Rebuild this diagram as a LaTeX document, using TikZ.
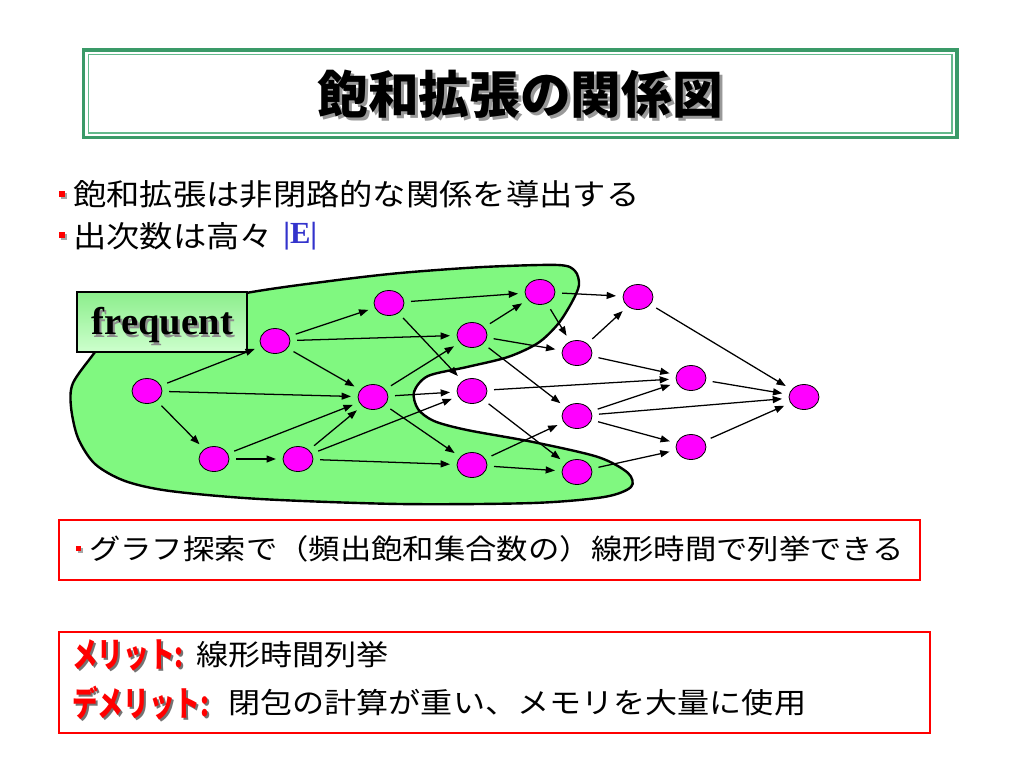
\documentclass[tikz,border=0pt]{standalone}
\usepackage{fontspec}
\usetikzlibrary{arrows.meta,shapes.geometric}
\newfontfamily\jp[FakeStretch=1.12]{Noto Sans CJK JP}
\newfontfamily\jpt{Noto Sans CJK JP}
\newfontfamily\jpc[FakeStretch=0.74]{Noto Sans CJK JP}
\newfontfamily\tms{Liberation Serif}
\definecolor{blobg}{RGB}{128,248,128}
\definecolor{frameg}{RGB}{58,154,104}
\definecolor{frameg2}{RGB}{100,185,140}
\definecolor{mag}{RGB}{255,0,255}
\definecolor{eblue}{RGB}{51,51,204}
\definecolor{fbtop}{RGB}{140,238,140}
\definecolor{fbbot}{RGB}{205,255,205}
\begin{document}
\begin{tikzpicture}[x=0.75pt,y=-0.75pt,
  vtx/.style={ellipse,draw=black,line width=0.6pt,fill=mag,minimum width=22.5pt,minimum height=18.75pt,inner sep=0pt},
  arr/.style={draw=black,line width=0.95pt,-{Triangle[length=7pt,width=5.2pt]},shorten <=5pt,shorten >=5pt},
  body/.style={inner sep=0pt,anchor=west,font=\jp\fontsize{22.3pt}{26pt}\selectfont},
  boxtxt/.style={inner sep=0pt,anchor=west,font=\jp\fontsize{21pt}{25pt}\selectfont},
  boxtxtb/.style={inner sep=0pt,anchor=west,font=\jp\fontsize{21.5pt}{26pt}\selectfont},
  redlbl/.style={inner sep=0pt,anchor=west,font=\jpc\bfseries\fontsize{26pt}{28pt}\selectfont},
  bul/.style={fill=red},
  bulsh/.style={fill=black!35},
  redbox/.style={draw=red,line width=1.1pt}
]
\useasboundingbox (0,0) rectangle (1024,768);
\fill[white] (0,0) rectangle (1024,768);

% title
\draw[frameg,line width=2.6pt] (83.5,50) rectangle (957,137.5);
\draw[frameg2,line width=1pt] (88.5,54.5) rectangle (952,133);
\node (ttlsh) [inner sep=0pt,text=black!40,font=\jpt\bfseries\fontsize{38pt}{40pt}\selectfont] at (523,97) {飽和拡張の関係図};
\node (ttl) [inner sep=0pt,font=\jpt\bfseries\fontsize{38pt}{40pt}\selectfont] at (520,94) {飽和拡張の関係図};

% bullets
\fill[bulsh] (60.5,192.5) rectangle ++(6,6);
\fill[bul] (59,191) rectangle ++(6,6);
\node (l1) [body] at (73,194) {飽和拡張は非閉路的な関係を導出する};
\fill[bulsh] (60.5,233.5) rectangle ++(6,6);
\fill[bul] (59,232) rectangle ++(6,6);
\node (l2) [body] at (73,236) {出次数は高々};
\node (l2e) [inner sep=0pt,anchor=west,text=eblue,font=\tms\bfseries\fontsize{23pt}{24pt}\selectfont] at (283,236) {|E|};

% green blob
\draw[fill=blobg,line width=1.8pt] plot[smooth cycle,tension=0.5] coordinates {
 (120,318) (246,293) (330,281) (400,273) (483,267) (558,265) (575,271) (579,285)
 (572,302) (558,324) (538,343) (508,357) (467,367) (428,376) (414,392) (418,409)
 (434,421) (467,430) (533,442) (598,457) (628,473) (631,487) (604,497) (533,503)
 (400,504) (260,499) (170,491) (125,481) (95,464) (78,438) (71,407) (73,383) (95,352)};

% frequent box
\node (freq) [draw=black,line width=1.5pt,top color=fbtop,bottom color=fbbot,minimum width=127.5pt,minimum height=45pt,inner sep=0pt] at (162,322) {};
\node (freqsh) [inner sep=0pt,text=black!45,font=\tms\bfseries\fontsize{29pt}{30pt}\selectfont] at (164.5,327.5) {frequent};
\node (freqt) [inner sep=0pt,font=\tms\bfseries\fontsize{29pt}{30pt}\selectfont] at (162.5,325) {frequent};

% vertices
\node (A) [vtx] at (147,391) {};
\node (B) [vtx] at (214,459) {};
\node (C) [vtx] at (298,459) {};
\node (D) [vtx] at (275,341) {};
\node (E) [vtx] at (389,303) {};
\node (F) [vtx] at (373,397) {};
\node (G) [vtx] at (540,292) {};
\node (H) [vtx] at (472,335) {};
\node (I) [vtx] at (472,391) {};
\node (J) [vtx] at (472,465) {};
\node (K) [vtx] at (577,353) {};
\node (L) [vtx] at (577,416) {};
\node (M) [vtx] at (577,472) {};
\node (N) [vtx] at (638,297) {};
\node (O) [vtx] at (691,378) {};
\node (P) [vtx] at (691,447) {};
\node (Q) [vtx] at (804,397) {};

% edges
\foreach \s/\t in {A/D,A/F,A/B,B/C,B/F,C/F,C/I,C/J,D/E,D/H,D/F,E/G,E/I,F/H,F/I,F/J,
  H/G,H/K,H/L,G/N,G/K,I/O,I/M,J/L,J/M,K/N,K/O,L/O,L/Q,L/P,M/P,N/Q,O/Q,P/Q}
  \draw[arr] (\s) -- (\t);

% box 1
\draw[redbox] (59,520) rectangle (920,580);
\fill[bulsh] (77.5,547.5) rectangle ++(5,5);
\fill[bul] (76,546) rectangle ++(5,5);
\node (b1) [boxtxt] at (89,549) {グラフ探索で（頻出飽和集合数の）線形時間で列挙できる};

% box 2
\draw[redbox] (59,632) rectangle (930,733);
\node (m1sh) [redlbl,text=black!55] at (74,657) {メリット:};
\node (m1) [redlbl,text=red] at (72,655) {メリット:};
\node (m1t) [boxtxtb] at (196,655) {線形時間列挙};
\node (m2sh) [redlbl,text=black!55] at (74,705) {デメリット:};
\node (m2) [redlbl,text=red] at (72,703) {デメリット:};
\node (m2t) [boxtxtb] at (228,703) {閉包の計算が重い、メモリを大量に使用};
\end{tikzpicture}
\end{document}
